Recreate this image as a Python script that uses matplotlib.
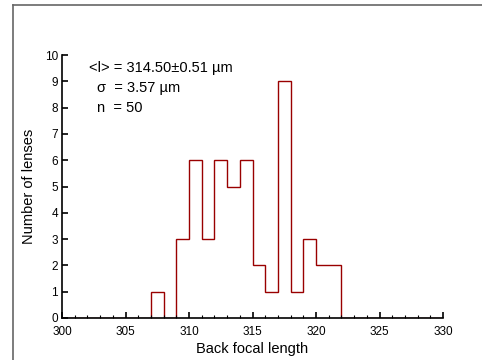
import matplotlib
matplotlib.use("Agg")
import matplotlib.pyplot as plt
import numpy as np
from matplotlib.ticker import MultipleLocator
from matplotlib.lines import Line2D

plt.rcParams['font.family'] = ['Liberation Sans', 'DejaVu Sans']

bin_edges = list(range(300, 331))
counts = [0, 0, 0, 0, 0, 0, 0, 1, 0, 3, 6, 3, 6, 5, 6, 2, 1, 9, 1, 3, 2, 2,
          0, 0, 0, 0, 0, 0, 0, 0]
stats_lines = ["<l> = 314.50\u00b10.51 \u00b5m", "\u03c3  = 3.57 \u00b5m", "n  = 50"]

fig = plt.figure(figsize=(4.82, 3.6), dpi=100)
ax = fig.add_axes([62/482, 1-318/360, (443-62)/482, (318-55)/360])

ax.stairs(counts, bin_edges, color='#990000', linewidth=1.0, baseline=0)

ax.set_xlim(300, 330)
ax.set_ylim(0, 10)
ax.xaxis.set_major_locator(MultipleLocator(5))
ax.xaxis.set_minor_locator(MultipleLocator(1))
ax.yaxis.set_major_locator(MultipleLocator(1))
for s in ['top', 'right']:
    ax.spines[s].set_visible(False)
for s in ['left', 'bottom']:
    ax.spines[s].set_linewidth(1.2)
ax.tick_params(axis='both', which='major', direction='in', length=4, width=1.2,
               labelsize=8.5)
ax.tick_params(axis='x', which='major', pad=6)
ax.tick_params(axis='y', which='major', pad=3)
ax.tick_params(axis='x', which='minor', direction='in', length=2.5, width=0.8)
ax.set_xlabel("Back focal length", fontsize=10.5, labelpad=3)
ax.set_ylabel("Number of lenses", fontsize=10.5, labelpad=6)

ax.text(0.07, 0.95, stats_lines[0], transform=ax.transAxes, fontsize=10.5, va='center')
ax.text(0.092, 0.873, stats_lines[1], transform=ax.transAxes, fontsize=10.5, va='center')
ax.text(0.092, 0.80, stats_lines[2], transform=ax.transAxes, fontsize=10.5, va='center')

# outer frame (left and top lines)
fig.add_artist(Line2D([13/482, 13/482], [0, 1-5/360], transform=fig.transFigure,
                      color='#666666', linewidth=1.2))
fig.add_artist(Line2D([13/482, 1], [1-5/360, 1-5/360], transform=fig.transFigure,
                      color='#666666', linewidth=1.2))

fig.savefig("out.png", dpi=100)
